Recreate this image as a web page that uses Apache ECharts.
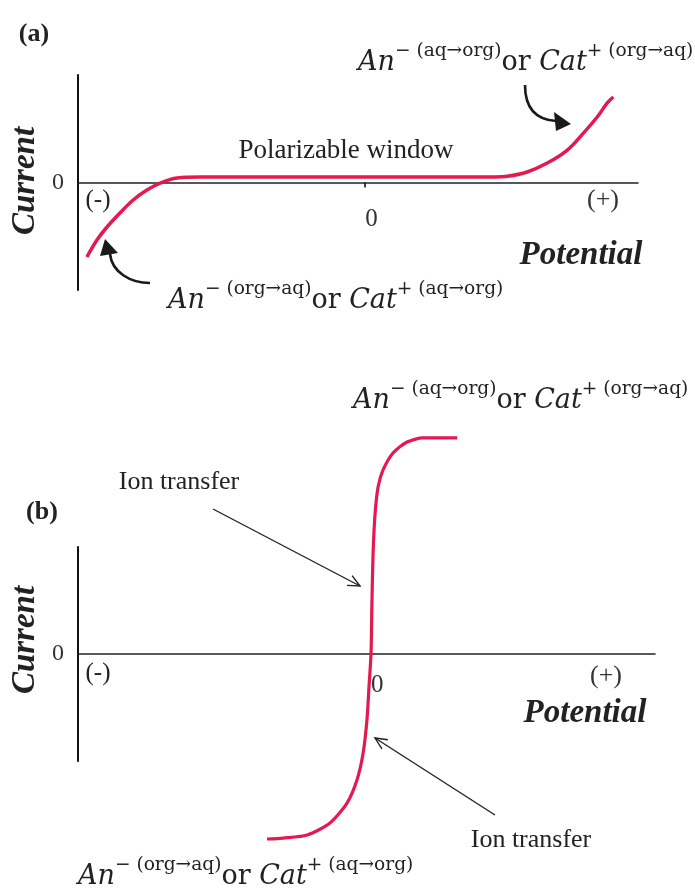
<!DOCTYPE html>
<html><head><meta charset="utf-8">
<script src="https://cdn.jsdelivr.net/npm/echarts@6/dist/echarts.min.js"></script>
<style>html,body{margin:0;padding:0;background:#fff}#c{width:695px;height:888px}</style>
</head><body><div id="c"></div>
<script>
// Panel (a): polarizable window curve
const potentialA = [-0.969,-0.934,-0.899,-0.854,-0.808,-0.760,-0.714,-0.655,-0.575,-0.40,-0.10,0.20,0.45,0.495,0.564,0.634,0.704,0.760,0.808,0.843,0.864];
const currentA   = [-0.693,-0.535,-0.414,-0.284,-0.163,-0.070,-0.005,0.042,0.051,0.051,0.051,0.051,0.052,0.058,0.098,0.181,0.302,0.460,0.609,0.740,0.795];
// Panel (b): ion-transfer sigmoid
const potentialB = [-0.355,-0.300,-0.218,-0.140,-0.082,-0.048,-0.027,-0.014,-0.007,0.000,0.003,0.007,0.014,0.024,0.041,0.075,0.123,0.177,0.294];
const currentB   = [-1.729,-1.720,-1.692,-1.579,-1.393,-1.178,-0.925,-0.617,-0.308,0.009,0.477,0.944,1.318,1.561,1.720,1.879,1.981,2.019,2.019];
const xTickValues = [0];
const yTickValues = [0];
const xTickLabels = ['0'];
const yTickLabels = ['0'];

const RED = '#e4194f';
const SERIF = '"Liberation Serif", "Times New Roman", serif';
const MATH = '"DejaVu Serif", serif';

const chart = echarts.init(document.getElementById('c'), null, {renderer: 'canvas'});

function xAxisCfg(idx, max, offset, tickLen, margin) {
  return {
    type: 'value', gridIndex: idx, min: -1, max: max, position: 'bottom', offset: offset,
    axisLine: {onZero: false, lineStyle: {color: '#222', width: 1.6}},
    splitLine: {show: false},
    axisTick: {show: true, customValues: xTickValues, length: tickLen, lineStyle: {color: '#111', width: 1.6}},
    axisLabel: {show: true, customValues: xTickValues, formatter: v => xTickLabels[xTickValues.indexOf(v)] ?? '',
      align: 'left', margin: margin, fontFamily: SERIF, fontSize: 25, color: '#333'}
  };
}
function yAxisCfg(idx) {
  return {
    type: 'value', gridIndex: idx, min: -1, max: 1,
    axisLine: {onZero: false, lineStyle: {color: '#111', width: 2}},
    splitLine: {show: false},
    axisTick: {show: false},
    axisLabel: {show: true, customValues: yTickValues, formatter: v => yTickLabels[yTickValues.indexOf(v)] ?? '',
      margin: 14, fontFamily: SERIF, fontSize: 24, color: '#333'}
  };
}

function richText(x, y, a, b) {
  return {
    type: 'text', x: x, y: y, silent: true,
    style: {
      text: '{i|An}{s|− (' + a + ')}{n|or }{i|Cat}{s|+ (' + b + ')}',
      align: 'left', verticalAlign: 'top', textAlign: 'left', textVerticalAlign: 'top',
      rich: {
        i: {fontFamily: MATH, fontStyle: 'italic', fontSize: 27, lineHeight: 34, verticalAlign: 'bottom', fill: '#222', color: '#222'},
        n: {fontFamily: MATH, fontSize: 27, lineHeight: 34, verticalAlign: 'bottom', fill: '#222', color: '#222'},
        s: {fontFamily: MATH, fontSize: 18.6, lineHeight: 18, verticalAlign: 'top', fill: '#222', color: '#222'}
      }
    }
  };
}
function txt(x, y, text, font, opts, color) {
  return Object.assign({
    type: 'text', x: x, y: y, silent: true,
    style: {text: text, font: font, fill: color || '#222', align: 'center', verticalAlign: 'middle', textAlign: 'center', textVerticalAlign: 'middle'}
  }, opts || {});
}
function openArrow(x1, y1, x2, y2) {
  const dx = x2 - x1, dy = y2 - y1, L = Math.hypot(dx, dy);
  const bx = -dx / L, by = -dy / L, len = 13, ang = 25 * Math.PI / 180;
  const r = (c, s) => [x2 + len * (bx * c - by * s), y2 + len * (bx * s + by * c)];
  const p1 = r(Math.cos(ang), Math.sin(ang)), p2 = r(Math.cos(-ang), Math.sin(-ang));
  return [
    {type: 'line', silent: true, shape: {x1: x1, y1: y1, x2: x2, y2: y2}, style: {stroke: '#222', lineWidth: 1.4}},
    {type: 'polyline', silent: true, shape: {points: [p1, [x2, y2], p2]}, style: {stroke: '#222', lineWidth: 1.4, fill: null}}
  ];
}

const BOLDIT = 'italic bold 33px ' + SERIF;

const option = {
  backgroundColor: '#fff',
  animation: false,
  grid: [
    {left: 78, width: 560, top: 75, height: 215},
    {left: 78, width: 577, top: 547, height: 214}
  ],
  xAxis: [xAxisCfg(0, 0.95, -107.5, 5, 24), xAxisCfg(1, 0.969, -107, 12, 19)],
  yAxis: [yAxisCfg(0), yAxisCfg(1)],
  series: [
    {type: 'line', xAxisIndex: 0, yAxisIndex: 0, showSymbol: false, smooth: 0.35, clip: false,
     lineStyle: {color: RED, width: 3.5}, data: potentialA.map((x, i) => [x, currentA[i]])},
    {type: 'line', xAxisIndex: 1, yAxisIndex: 1, showSymbol: false, smooth: 0.25, clip: false,
     lineStyle: {color: RED, width: 3.2}, data: potentialB.map((x, i) => [x, currentB[i]])}
  ],
  graphic: [
    // Panel (a)
    txt(34, 34, '(a)', 'bold 26px ' + SERIF),
    txt(25, 181, 'Current', BOLDIT, {rotation: Math.PI / 2}),
    txt(581, 255, 'Potential', BOLDIT),
    txt(346, 151, 'Polarizable window', '27px ' + SERIF),
    txt(98, 200, '(-)', '25px ' + SERIF),
    txt(603, 200, '(+)', '26px ' + SERIF, null, '#333'),
    richText(358, 42, 'aq→org', 'org→aq'),
    richText(168, 280, 'org→aq', 'aq→org'),
    {type: 'bezierCurve', silent: true, shape: {x1: 525, y1: 85, x2: 556, y2: 121, cpx1: 525, cpy1: 112, cpx2: 540, cpy2: 120},
     style: {stroke: '#1a1a1a', lineWidth: 2.6, fill: null}},
    {type: 'polygon', silent: true, shape: {points: [[571, 124], [554, 112], [556, 131]]}, style: {fill: '#1a1a1a'}},
    {type: 'bezierCurve', silent: true, shape: {x1: 150, y1: 283, x2: 110, y2: 254, cpx1: 130, cpy1: 283, cpx2: 112, cpy2: 272},
     style: {stroke: '#1a1a1a', lineWidth: 2.6, fill: null}},
    {type: 'polygon', silent: true, shape: {points: [[105, 239], [100, 256], [118, 253]]}, style: {fill: '#1a1a1a'}},
    // Panel (b)
    txt(42, 512, '(b)', 'bold 26px ' + SERIF),
    txt(25, 640, 'Current', BOLDIT, {rotation: Math.PI / 2}),
    txt(585, 713, 'Potential', BOLDIT),
    txt(98, 673, '(-)', '25px ' + SERIF),
    txt(606, 676, '(+)', '26px ' + SERIF, null, '#333'),
    txt(179, 482, 'Ion transfer', '26px ' + SERIF),
    txt(531, 840, 'Ion transfer', '26px ' + SERIF),
    richText(353, 380, 'aq→org', 'org→aq'),
    richText(78, 856, 'org→aq', 'aq→org'),
    ...openArrow(213, 509, 360, 586),
    ...openArrow(495, 815, 375, 738)
  ]
};
chart.setOption(option);
</script>
</body></html>
